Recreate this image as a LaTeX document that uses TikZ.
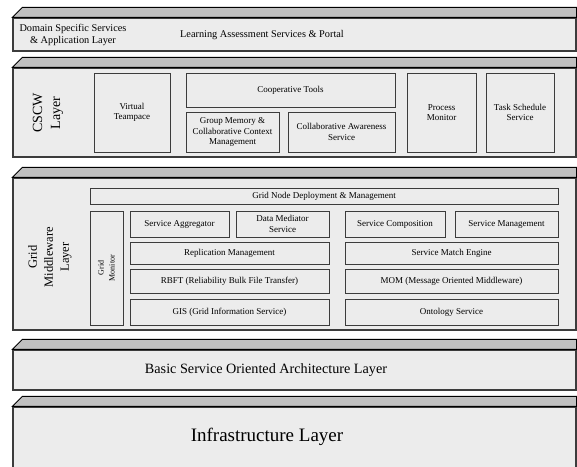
\documentclass[tikz,border=0pt]{standalone}
\usepackage{fontspec}
\setmainfont{Liberation Serif}
\definecolor{facegray}{RGB}{236,236,236}
\definecolor{topgray}{RGB}{192,192,192}
\definecolor{edgegray}{RGB}{60,60,60}

\begin{document}
\begin{tikzpicture}[x=1pt,y=-1pt,
  front/.style={draw=edgegray,line width=1.2pt,fill=facegray,inner sep=0pt},
  topface/.style={draw=black,line width=0.9pt,fill=topgray},
  svc/.style={draw=edgegray,line width=1pt,fill=facegray,align=center,
    inner sep=1pt,font=\fontsize{9}{10.5}\selectfont},
  layerlbl/.style={align=center,font=\fontsize{13}{16}\selectfont}
]
  \useasboundingbox (0,0) rectangle (577,466);

  % Domain Specific Services & Application Layer
  \node[front,minimum width=563pt,minimum height=33pt] (dom) at (294.5,34.5) {};
  \draw[topface] (dom.north west) -- ++(10,-10) -| (dom.north east) -- cycle;
  \node[align=center,font=\fontsize{10.3}{12.4}\selectfont] (domlbl) at (73,35) {Domain Specific Services\\\& Application Layer};
  \node[font=\fontsize{10.3}{12.4}\selectfont] (portal) at (262,35) {Learning Assessment Services \& Portal};

  % CSCW Layer
  \node[front,minimum width=563pt,minimum height=89pt] (cscw) at (294.5,112.5) {};
  \draw[topface] (cscw.north west) -- ++(10,-10) -| (cscw.north east) -- cycle;
  \node[layerlbl,font=\fontsize{14}{18}\selectfont,rotate=90] (cscwlbl) at (48,113) {CSCW\\Layer};
  \node[svc,minimum width=76pt,minimum height=79pt] (vteam) at (132,112.5) {Virtual\\Teampace};
  \node[svc,minimum width=209pt,minimum height=34pt] (coop) at (290.5,90) {Cooperative Tools};
  \node[svc,minimum width=93pt,minimum height=40pt] (grpmem) at (232.5,132) {Group Memory \&\\Collaborative Context\\Management};
  \node[svc,minimum width=107pt,minimum height=40pt] (aware) at (341.5,132) {Collaborative Awareness\\Service};
  \node[svc,minimum width=69pt,minimum height=79pt] (procmon) at (441.5,112.5) {Process\\Monitor};
  \node[svc,minimum width=68pt,minimum height=79pt] (tasksched) at (520,112.5) {Task Schedule\\Service};

  % Grid Middleware Layer
  \node[front,minimum width=563pt,minimum height=152pt] (grid) at (294.5,254) {};
  \draw[topface] (grid.north west) -- ++(10,-10) -| (grid.north east) -- cycle;
  \node[layerlbl,font=\fontsize{12.5}{16}\selectfont,rotate=90] (gridlbl) at (50,257) {Grid\\Middleware\\Layer};
  \node[svc,minimum width=468pt,minimum height=16pt] (gnd) at (324,196) {Grid Node Deployment \& Management};
  \node[svc,minimum width=114pt,minimum height=33pt,rotate=90,font=\fontsize{8}{11}\selectfont] (gmon) at (106.5,268) {Grid\\Monitor};
  \node[svc,minimum width=99pt,minimum height=26pt] (svcagg) at (179.5,224) {Service Aggregator};
  \node[svc,minimum width=93pt,minimum height=26pt] (datamed) at (282.5,224) {Data Mediator\\Service};
  \node[svc,minimum width=100pt,minimum height=26pt] (svccomp) at (395,224) {Service Composition};
  \node[svc,minimum width=103pt,minimum height=26pt] (svcmgmt) at (506.5,224) {Service Management};
  \node[svc,minimum width=199pt,minimum height=22pt] (repl) at (229.5,253) {Replication Management};
  \node[svc,minimum width=213pt,minimum height=22pt] (match) at (451.5,253) {Service Match Engine};
  \node[svc,minimum width=199pt,minimum height=24pt] (rbft) at (229.5,281) {RBFT (Reliability Bulk File Transfer)};
  \node[svc,minimum width=213pt,minimum height=24pt] (mom) at (451.5,281) {MOM (Message Oriented Middleware)};
  \node[svc,minimum width=199pt,minimum height=26pt] (gis) at (229.5,312) {GIS (Grid Information Service)};
  \node[svc,minimum width=213pt,minimum height=26pt] (onto) at (451.5,312) {Ontology Service};

  % Basic Service Oriented Architecture Layer
  \node[front,minimum width=563pt,minimum height=40pt] (soa) at (294.5,370) {};
  \draw[topface] (soa.north west) -- ++(10,-10) -| (soa.north east) -- cycle;
  \node[font=\fontsize{14.2}{17}\selectfont] (soalbl) at (266,370) {Basic Service Oriented Architecture Layer};

  % Infrastructure Layer
  \node[front,minimum width=563pt,minimum height=68pt] (infra) at (294.5,441) {};
  \draw[topface] (infra.north west) -- ++(10,-10) -| (infra.north east) -- cycle;
  \node[font=\fontsize{19}{23}\selectfont] (infralbl) at (267,437) {Infrastructure Layer};
\end{tikzpicture}
\end{document}
